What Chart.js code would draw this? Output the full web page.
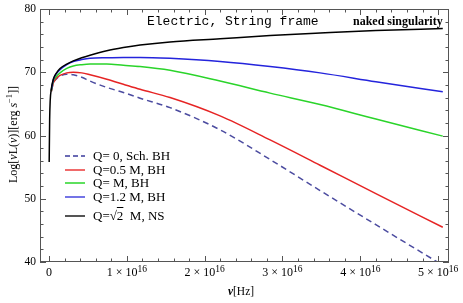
<!DOCTYPE html>
<html>
<head>
<meta charset="utf-8">
<script src="https://cdn.jsdelivr.net/npm/chart.js@4.4.1/dist/chart.umd.min.js"></script>
<style>
  body { margin: 0; background: #fff; }
  #wrap { position: relative; width: 463px; height: 303px; font-family: "Liberation Serif", "Times New Roman", serif; color: #000; }
  #wrap canvas { position: absolute; left: 0; top: 0; }
  .lbl { position: absolute; white-space: nowrap; line-height: 1; }
  .leg { position: absolute; left: 65px; display: flex; align-items: center; font-size: 13px; transform: translateY(-50%); white-space: nowrap; }
  .sw { display: inline-block; width: 20px; height: 1.5px; margin-right: 8px; }
</style>
</head>
<body>
<div id="wrap">
  <canvas id="lumChart" width="463" height="303"></canvas>

  <div class="lbl" style="left:147px; top:15px; font-family:'Liberation Mono', monospace; font-size:13px;">Electric, String frame</div>
  <div class="lbl" style="left:353px; top:15px; font-size:12px; font-weight:bold;">naked singularity</div>

  <div class="leg" style="top:156px"><span class="sw" style="background:repeating-linear-gradient(90deg,#6a6ab4 0 5px,transparent 5px 8px)"></span>Q= 0, Sch. BH</div>
  <div class="leg" style="top:170px"><span class="sw" style="background:#f06a6a"></span>Q=0.5 M, BH</div>
  <div class="leg" style="top:183px"><span class="sw" style="background:#5ee05e"></span>Q= M, BH</div>
  <div class="leg" style="top:197px"><span class="sw" style="background:#7474e6"></span>Q=1.2 M, BH</div>
  <div class="leg" style="top:216px"><span class="sw" style="background:#555"></span>Q=&radic;<span style="text-decoration:overline">2</span>&nbsp; M, NS</div>

  <div class="lbl" style="left:5px; top:183px; font-size:12px; transform-origin:0 0; transform:rotate(-90deg);">Log[<i>ν</i>L(<i>ν</i>)][erg <i>s</i><sup style="font-size:8.5px">&minus;1</sup>]]</div>
  <div class="lbl" style="left:241px; top:292px; font-size:11.5px; transform:translate(-50%,-50%);"><b><i>ν</i></b>[Hz]</div>
</div>

<script>
// frequencies in units of 1e16 Hz, luminosity as log10
const nuBH = [0.03, 0.055, 0.09, 0.141, 0.228, 0.312, 0.42, 0.527, 0.742, 0.955, 1.17, 1.555, 2.198, 2.841, 3.483, 4.2, 5.06];
const nuSch = [0.03, 0.055, 0.09, 0.141, 0.228, 0.312, 0.42, 0.527, 0.742, 0.955, 1.17, 1.555, 2.198, 2.841, 3.483, 4.2, 4.99];
const nuNS = [0.002, 0.008, 0.015, 0.03, 0.055, 0.09, 0.141, 0.228, 0.312, 0.42, 0.527, 0.742, 0.955, 1.17, 1.555, 2.198, 2.841, 3.483, 4.2, 5.06];

const logSch = [67.0, 68.3, 68.9, 69.4, 69.7, 69.6, 69.2, 68.6, 67.6, 66.8, 65.9, 64.4, 60.9, 56.2, 51.3, 45.9, 40.0];
const logQ05 = [67.0, 68.3, 69.0, 69.5, 69.9, 70.0, 69.9, 69.6, 68.9, 68.1, 67.3, 66.0, 63.1, 59.3, 55.3, 50.8, 45.5];
const logQ1 = [67.1, 68.6, 69.3, 69.9, 70.6, 71.0, 71.2, 71.3, 71.3, 71.1, 70.9, 70.3, 68.6, 66.7, 64.9, 62.6, 59.9];
const logQ12 = [67.2, 68.8, 69.7, 70.4, 71.2, 71.7, 72.0, 72.2, 72.3, 72.35, 72.35, 72.2, 71.7, 70.9, 69.9, 68.5, 66.9];
const logNS = [55.8, 62.5, 65.5, 67.4, 68.9, 69.8, 70.6, 71.3, 71.8, 72.3, 72.7, 73.4, 73.9, 74.3, 74.8, 75.3, 75.8, 76.2, 76.6, 76.9];

const xTicks = [0, 1, 2, 3, 4, 5];
const yTicks = [40, 50, 60, 70, 80];

function pts(xs, ys) {
    return xs.map((v, i) => ({ x: v, y: ys[i] }));
}

// mathematica-like frame with inward ticks on all four sides
const frameTicks = {
    id: 'frameTicks',
    afterDraw(chart) {
        const { ctx, chartArea: a, scales } = chart;
        const x = scales.x, y = scales.y;
        ctx.save();
        ctx.strokeStyle = '#555';
        ctx.lineWidth = 1;
        ctx.strokeRect(a.left + 0.5, a.top + 0.5, a.right - a.left - 1, a.bottom - a.top - 1);

        ctx.beginPath();
        for (let k = -1; k <= 26; k++) {
            const v = k * 0.2;
            if (v < x.min || v > x.max) continue;
            const px = Math.round(x.getPixelForValue(v)) + 0.5;
            const len = (k % 5 === 0) ? 6 : 3.5;
            ctx.moveTo(px, a.bottom); ctx.lineTo(px, a.bottom - len);
            ctx.moveTo(px, a.top); ctx.lineTo(px, a.top + len);
        }
        for (let v = 40; v <= 80; v += 2) {
            const py = Math.round(y.getPixelForValue(v)) + 0.5;
            const len = (v % 10 === 0) ? 6 : 3.5;
            ctx.moveTo(a.left, py); ctx.lineTo(a.left + len, py);
            ctx.moveTo(a.right, py); ctx.lineTo(a.right - len, py);
        }
        ctx.stroke();

        ctx.fillStyle = '#000';
        ctx.font = '11.5px "Liberation Serif", serif';
        ctx.textBaseline = 'middle';
        ctx.textAlign = 'right';
        yTicks.forEach(v => ctx.fillText(String(v), a.left - 4, y.getPixelForValue(v)));

        ctx.textAlign = 'left';
        xTicks.forEach(v => {
            const px = x.getPixelForValue(v);
            const py = a.bottom + 11;
            if (v === 0) {
                ctx.font = '12px "Liberation Serif", serif';
                const w = ctx.measureText('0').width;
                ctx.fillText('0', px - w / 2, py);
                return;
            }
            const base = v + ' \u00d7 10';
            ctx.font = '12px "Liberation Serif", serif';
            const wb = ctx.measureText(base).width;
            ctx.font = '9.5px "Liberation Serif", serif';
            const ws = ctx.measureText('16').width;
            const left = px - (wb + ws) / 2;
            ctx.font = '12px "Liberation Serif", serif';
            ctx.fillText(base, left, py);
            ctx.font = '9.5px "Liberation Serif", serif';
            ctx.fillText('16', left + wb, py - 4);
        });
        ctx.restore();
    }
};

const ctx = document.getElementById('lumChart').getContext('2d');
const lumChart = new Chart(ctx, {
    type: 'line',
    data: {
        datasets: [
            { label: 'Q=\u221a2 M, NS', data: pts(nuNS, logNS), borderColor: '#000000' },
            { label: 'Q=1.2 M, BH', data: pts(nuBH, logQ12), borderColor: '#2424dc' },
            { label: 'Q= M, BH', data: pts(nuBH, logQ1), borderColor: '#2ad42a' },
            { label: 'Q=0.5 M, BH', data: pts(nuBH, logQ05), borderColor: '#e62424' },
            { label: 'Q= 0, Sch. BH', data: pts(nuSch, logSch), borderColor: '#4c4ca0', borderDash: [6, 4] }
        ]
    },
    options: {
        responsive: false,
        animation: false,
        layout: { padding: { left: 40, top: 9, right: 14, bottom: 41 } },
        elements: {
            point: { radius: 0 },
            line: { borderWidth: 1.5, cubicInterpolationMode: 'monotone', fill: false }
        },
        scales: {
            x: { type: 'linear', display: false, min: -0.116, max: 5.14 },
            y: { type: 'linear', display: false, min: 40, max: 80 }
        },
        plugins: {
            legend: { display: false },
            tooltip: { enabled: false }
        }
    },
    plugins: [frameTicks]
});
</script>
</body>
</html>
